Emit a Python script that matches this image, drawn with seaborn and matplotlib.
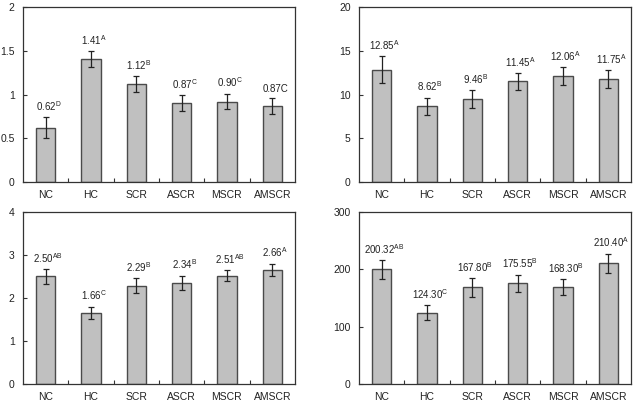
import numpy as np
import pandas as pd
import matplotlib
matplotlib.use("Agg")
import matplotlib.pyplot as plt
import seaborn as sns
from matplotlib.ticker import FuncFormatter

# -----------------------------------
# Data
# -----------------------------------
groups = ["NC", "HC", "SCR", "ASCR", "MSCR", "AMSCR"]

# top-left panel
p1_values = [0.62, 1.41, 1.12, 0.90, 0.92, 0.87]
p1_errors = [0.12, 0.09, 0.09, 0.09, 0.09, 0.09]
p1_labels = ["0.62$^{D}$", "1.41$^{A}$", "1.12$^{B}$",
             "0.87$^{C}$", "0.90$^{C}$", "0.87C"]

# top-right panel
p2_values = [12.85, 8.65, 9.50, 11.50, 12.12, 11.78]
p2_errors = [1.55, 1.00, 1.00, 0.95, 1.00, 1.05]
p2_labels = ["12.85$^{A}$", "8.62$^{B}$", "9.46$^{B}$",
             "11.45$^{A}$", "12.06$^{A}$", "11.75$^{A}$"]

# bottom-left panel
p3_values = [2.50, 1.66, 2.29, 2.35, 2.52, 2.66]
p3_errors = [0.17, 0.14, 0.17, 0.17, 0.13, 0.14]
p3_labels = ["2.50$^{AB}$", "1.66$^{C}$", "2.29$^{B}$",
             "2.34$^{B}$", "2.51$^{AB}$", "2.66$^{A}$"]

# bottom-right panel
p4_values = [200.3, 124.5, 168.3, 175.8, 168.3, 210.5]
p4_errors = [16.5, 13.0, 17.0, 15.0, 14.0, 17.0]
p4_labels = ["200.32$^{AB}$", "124.30$^{C}$", "167.80$^{B}$",
             "175.55$^{B}$", "168.30$^{B}$", "210.40$^{A}$"]

p1_ymax, p1_step = 2, 0.5
p2_ymax, p2_step = 20, 5
p3_ymax, p3_step = 4, 1
p4_ymax, p4_step = 300, 100

# -----------------------------------
# Style
# -----------------------------------
sns.set_theme(style="ticks")
plt.rcParams["font.family"] = ["Liberation Sans", "DejaVu Sans"]
plt.rcParams["mathtext.fontset"] = "custom"
plt.rcParams["mathtext.rm"] = "Liberation Sans"
plt.rcParams["mathtext.it"] = "Liberation Sans"

fig = plt.figure(figsize=(6.37, 4.04), dpi=100)

positions = [
    [0.036, 0.5495, 0.427, 0.433],
    [0.5636, 0.5495, 0.427, 0.433],
    [0.036, 0.050, 0.427, 0.425],
    [0.5636, 0.050, 0.427, 0.425],
]

panels = [
    (p1_values, p1_errors, p1_labels, p1_ymax, p1_step),
    (p2_values, p2_errors, p2_labels, p2_ymax, p2_step),
    (p3_values, p3_errors, p3_labels, p3_ymax, p3_step),
    (p4_values, p4_errors, p4_labels, p4_ymax, p4_step),
]

for pos, (values, errors, labels, ymax, step) in zip(positions, panels):

    ax = fig.add_axes(pos)

    df = pd.DataFrame({"group": groups, "value": values})

    sns.barplot(
        data=df,
        x="group",
        y="value",
        color="#c0c0c0",
        saturation=1,
        width=0.43,
        edgecolor="#4a4a4a",
        linewidth=1.0,
        errorbar=None,
        ax=ax
    )

    x = np.arange(len(groups))

    ax.errorbar(
        x,
        values,
        yerr=errors,
        fmt="none",
        ecolor="#222222",
        elinewidth=0.9,
        capsize=2.2,
        capthick=0.9
    )

    for i, (v, e, lab) in enumerate(zip(values, errors, labels)):
        ax.annotate(
            lab,
            xy=(i, v + e),
            xytext=(2, 3),
            textcoords="offset points",
            ha="center",
            va="bottom",
            fontsize=7,
            color="#222222"
        )

    ax.set_xlim(-0.5, len(groups) - 0.5)
    ax.set_ylim(0, ymax)
    ax.set_yticks(np.arange(0, ymax + step / 2, step))
    ax.yaxis.set_major_formatter(FuncFormatter(lambda v, p: f"{v:g}"))

    # category labels without ticks, ticks at boundaries
    ax.set_xticks(x)
    ax.set_xticklabels(groups)
    ax.set_xticks(np.arange(0.5, len(groups) - 1, 1.0), minor=True)
    ax.tick_params(axis="x", which="major", length=0, pad=6,
                   labelsize=7.5, labelcolor="#222222")
    ax.tick_params(axis="x", which="minor", direction="in", length=3,
                   width=0.8, color="#333333")
    ax.tick_params(axis="y", direction="in", length=3, width=0.8,
                   labelsize=7.5, labelcolor="#222222", pad=6,
                   color="#333333")

    ax.set_xlabel("")
    ax.set_ylabel("")

    for s in ax.spines.values():
        s.set_visible(True)
        s.set_color("#333333")
        s.set_linewidth(0.9)

fig.savefig("out.png", dpi=100)
